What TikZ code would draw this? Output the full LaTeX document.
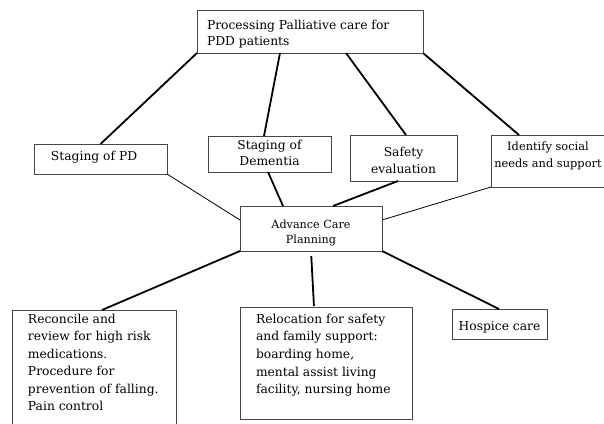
\documentclass[tikz,border=0pt]{standalone}
\usepackage{fontspec}
\setmainfont{DejaVu Serif}
\usetikzlibrary{calc}

% Fixed-size text block: width, height, gap above the first line, setup, lines
\newcommand\boxtext[5]{%
  \parbox[c][#2][t]{#1}{#4\vspace*{#3}\strut #5}}
\newcommand\mainfont[1]{\fontsize{12.3}{#1}\selectfont}

\tikzset{
  card/.style={draw=black!72, line width=0.9pt, inner sep=0pt, outer sep=0pt,
    rectangle, fill=white},
  bold link/.style={line width=1.8pt, black},
  thin link/.style={line width=0.8pt, black},
}

\begin{document}
\begin{tikzpicture}[x=1pt, y=-1pt]
\useasboundingbox (0,0) rectangle (604,423);

% top level
\node[card] (top) at (310,31.5)
  {\boxtext{226pt}{43pt}{7.6pt}{\mainfont{16.3}\raggedright\leftskip=10pt}
   {Processing Palliative care for\\PDD patients}};

% assessment row
\node[card] (pd) at (100.5,159)
  {\boxtext{133pt}{30pt}{4.6pt}{\mainfont{16.3}\raggedright\leftskip=17pt}
   {Staging of PD}};
\node[card] (dem) at (269.5,154)
  {\boxtext{123pt}{36pt}{1.75pt}{\mainfont{16.5}\centering}
   {Staging of\\Dementia}};
\node[card] (saf) at (403.5,158)
  {\boxtext{107pt}{46pt}{9.6pt}{\mainfont{17.2}\centering}
   {Safety\\evaluation}};
% this box runs on past the right edge of the page
\node[card] (id) at (553,161)
  {\boxtext{124pt}{52pt}{4.1pt}{\fontsize{11.4}{16.6}\selectfont\centering
     \advance\rightskip 10pt}
   {Identify social\\needs and support}};

% central node
\node[card] (acp) at (311,228.5)
  {\boxtext{142pt}{45pt}{12.8pt}{\fontsize{11.2}{14.5}\selectfont\centering}
   {Advance Care\\Planning}};

% outcomes
\node[card] (rec) at (94,372.5)
  {\boxtext{164pt}{125pt}{1.05pt}{\mainfont{17.5}\raggedright\leftskip=16pt}
   {Reconcile and\\review for high risk\\medications.\\Procedure for\\prevention of falling.\\Pain control}};
\node[card] (rel) at (326,363)
  {\boxtext{172pt}{112pt}{4pt}{\mainfont{17.6}\raggedright\leftskip=16pt}
   {Relocation for safety\\and family support:\\boarding home,\\mental assist living\\facility, nursing home}};
\node[card] (hos) at (499.5,324)
  {\boxtext{95pt}{30pt}{9.8pt}{\mainfont{16}\centering}
   {Hospice care}};

% connectors from the top box
\draw[bold link] (top.south west) -- (pd.north);
\draw[bold link] ($(top.south west)+(83,0)$) -- ($(dem.north west)+(56,0)$);
\draw[bold link] ($(top.south west)+(149,0)$) -- ($(saf.north west)+(56,0)$);
\draw[bold link] (top.south east) -- ($(id.north west)+(28,0)$);

% assessments into planning
\draw[thin link] (pd.south east) -- ($(acp.north west)+(0,14)$);
\draw[bold link] ($(dem.south west)+(60,0)$) -- ($(acp.north west)+(43,0)$);
\draw[bold link] ($(saf.south west)+(48,0)$) -- ($(acp.north west)+(93,0)$);
\draw[thin link] (id.south west) -- ($(acp.north east)+(0,14)$);

% planning into outcomes
\draw[bold link] (acp.south west) -- ($(rec.north west)+(90,0)$);
\draw[bold link, shorten <=5pt, shorten >=1pt] ($(acp.south west)+(71,0)$) -- ($(rel.north west)+(74,0)$);
\draw[bold link] (acp.south east) -- ($(hos.north west)+(47,0)$);
\end{tikzpicture}
\end{document}
